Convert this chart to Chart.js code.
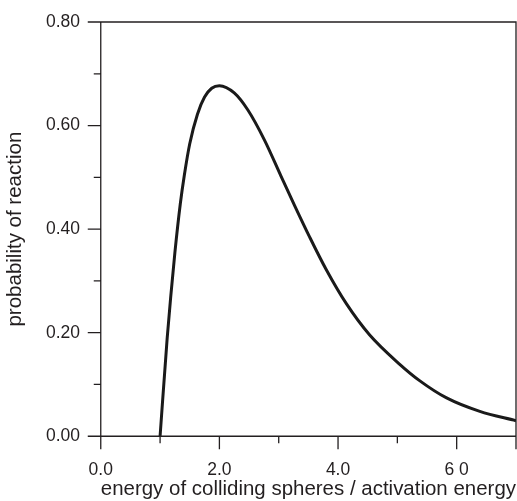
<!DOCTYPE html>
<html>
<head>
<meta charset="utf-8">
<script src="https://cdn.jsdelivr.net/npm/chart.js@4/dist/chart.umd.min.js"></script>
<style>
  html, body { margin: 0; padding: 0; background: #fff; }
  #wrap { width: 517px; height: 501px; }
</style>
</head>
<body>
<div id="wrap"><canvas id="probChart" width="517" height="501"></canvas></div>
<script>
// energy / activation energy vs probability of reaction
const energyRatio = [1.0, 1.12, 1.18, 1.25, 1.34, 1.41, 1.5, 1.63, 1.75, 1.87, 2.0, 2.25, 2.48, 2.76, 3.04, 3.27, 3.52, 3.8, 4.14, 4.53, 5.04, 5.38, 5.83, 6.39, 7.0];
const probability = [0, 0.19, 0.27, 0.355, 0.448, 0.505, 0.565, 0.622, 0.655, 0.672, 0.677, 0.663, 0.63, 0.572, 0.502, 0.445, 0.385, 0.322, 0.256, 0.196, 0.139, 0.107, 0.074, 0.048, 0.03];

const xTickValues = [0, 2, 4, 6];
const xTickLabels = ["0.0", "2.0", "4.0", "6 0"];
const xMajorTicks = [0, 2, 4, 6, 7];
const xMinorTicks = [1, 3, 5];

const yTickValues = [0, 0.2, 0.4, 0.6, 0.8];
const yTickLabels = ["0.00", "0.20", "0.40", "0.60", "0.80"];
const yMinorTicks = [0.1, 0.3, 0.5, 0.7];

const ink = "#231f20";
const fontFamily = "'Liberation Sans', Arial, Helvetica, sans-serif";

// box frame plus outward major/minor ticks
const frameTicks = {
  id: "frameTicks",
  afterDraw(chart) {
    const { ctx, chartArea: a, scales: { x, y } } = chart;
    ctx.save();
    ctx.strokeStyle = ink;
    ctx.lineWidth = 1.3;
    ctx.beginPath();
    ctx.rect(a.left, a.top, a.right - a.left, a.bottom - a.top);
    xMajorTicks.forEach(v => {
      const px = x.getPixelForValue(v);
      ctx.moveTo(px, a.bottom);
      ctx.lineTo(px, a.bottom + 13);
    });
    xMinorTicks.forEach(v => {
      const px = x.getPixelForValue(v);
      ctx.moveTo(px, a.bottom);
      ctx.lineTo(px, a.bottom + 7);
    });
    yTickValues.forEach(v => {
      const py = y.getPixelForValue(v);
      ctx.moveTo(a.left, py);
      ctx.lineTo(a.left - 13, py);
    });
    yMinorTicks.forEach(v => {
      const py = y.getPixelForValue(v);
      ctx.moveTo(a.left, py);
      ctx.lineTo(a.left - 7, py);
    });
    ctx.stroke();
    ctx.restore();
  }
};

// invisible tick marks are used only to set the label offset
const hiddenGrid = (len) => ({
  display: true,
  drawOnChartArea: false,
  drawTicks: true,
  tickLength: len,
  tickColor: "rgba(0,0,0,0)"
});

const ctx = document.getElementById("probChart").getContext("2d");
new Chart(ctx, {
  type: "scatter",
  data: {
    datasets: [{
      data: energyRatio.map((e, i) => ({ x: e, y: probability[i] })),
      showLine: true,
      borderColor: "#1a1a1a",
      borderWidth: 3,
      pointRadius: 0,
      cubicInterpolationMode: "monotone",
      fill: false
    }]
  },
  options: {
    responsive: false,
    animation: false,
    layout: { padding: { top: 22, right: 1, bottom: 0, left: 0 } },
    plugins: {
      legend: { display: false },
      tooltip: { enabled: false }
    },
    scales: {
      x: {
        type: "linear",
        min: 0,
        max: 7,
        grid: hiddenGrid(25),
        border: { display: false },
        afterBuildTicks: axis => { axis.ticks = xTickValues.map(v => ({ value: v })); },
        ticks: {
          padding: 0,
          color: ink,
          maxRotation: 0,
          autoSkip: false,
          font: { family: fontFamily, size: 17.5, lineHeight: 1 },
          callback: (value, index) => xTickLabels[index]
        },
        title: {
          display: true,
          text: "energy of colliding spheres / activation energy",
          color: ink,
          font: { family: fontFamily, size: 20.5, lineHeight: 1 },
          padding: { top: 0, bottom: 1.75 }
        }
      },
      y: {
        type: "linear",
        min: 0,
        max: 0.8,
        grid: hiddenGrid(20.7),
        border: { display: false },
        afterBuildTicks: axis => { axis.ticks = yTickValues.map(v => ({ value: v })); },
        ticks: {
          padding: 0,
          color: ink,
          autoSkip: false,
          font: { family: fontFamily, size: 17.5, lineHeight: 1 },
          callback: (value, index) => yTickLabels[index]
        },
        title: {
          display: true,
          text: "probability of reaction",
          color: ink,
          font: { family: fontFamily, size: 20.5, lineHeight: 1 },
          padding: { top: 5.5, bottom: 20 }
        }
      }
    }
  },
  plugins: [frameTicks]
});
</script>
</body>
</html>
